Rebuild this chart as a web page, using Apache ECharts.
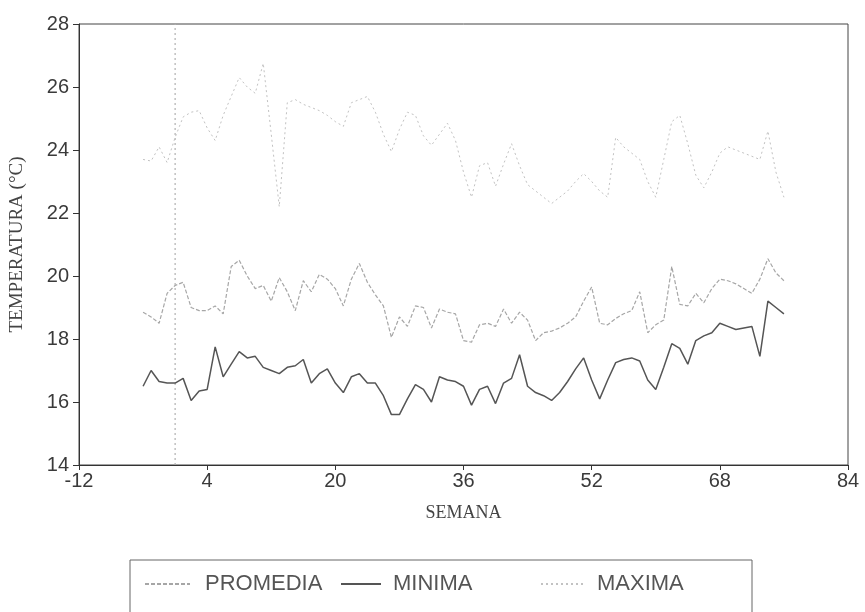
<!DOCTYPE html>
<html>
<head>
<meta charset="utf-8">
<script src="https://cdn.jsdelivr.net/npm/echarts@6.0.0/dist/echarts.min.js"></script>
<style>
html,body{margin:0;padding:0;background:#fff;}
#grafico{width:865px;height:612px;}
</style>
</head>
<body>
<div id="grafico"></div>
<script>
// semanas (eje x)
var semanas = [-4,-3,-2,-1,0,1,2,3,4,5,6,7,8,9,10,11,12,13,14,15,16,17,18,19,20,
  21,22,23,24,25,26,27,28,29,30,31,32,33,34,35,36,37,38,39,40,41,42,43,44,45,46,
  47,48,49,50,51,52,53,54,55,56,57,58,59,60,61,62,63,64,65,66,67,68,69,70,71,72,
  73,74,75,76];

// temperaturas (°C)
var promedia = [18.85,18.7,18.5,19.45,19.7,19.8,19.0,18.9,18.9,19.05,18.8,20.3,20.5,20.0,19.6,
  19.7,19.2,19.95,19.5,18.9,19.85,19.5,20.05,19.9,19.6,19.05,19.9,20.4,19.8,19.4,19.05,
  18.05,18.7,18.4,19.05,19.0,18.35,18.95,18.85,18.8,17.95,17.9,18.45,18.5,18.4,18.95,18.5,
  18.85,18.6,17.95,18.2,18.25,18.35,18.5,18.7,19.2,19.65,18.5,18.45,18.65,18.8,18.9,19.5,
  18.2,18.45,18.6,20.3,19.1,19.05,19.45,19.15,19.6,19.9,19.85,19.75,19.6,19.45,19.9,20.55,
  20.1,19.85];
var minima = [16.5,17.0,16.65,16.6,16.6,16.75,16.05,16.35,16.4,17.75,16.8,17.2,17.6,17.4,17.45,
  17.1,17.0,16.9,17.1,17.15,17.35,16.6,16.9,17.05,16.6,16.3,16.8,16.9,16.6,16.6,16.2,
  15.6,15.6,16.1,16.55,16.4,16.0,16.8,16.7,16.65,16.5,15.9,16.4,16.5,15.95,16.6,16.75,
  17.5,16.5,16.3,16.2,16.05,16.3,16.65,17.05,17.4,16.7,16.1,16.7,17.25,17.35,17.4,17.3,
  16.7,16.4,17.1,17.85,17.7,17.2,17.95,18.1,18.2,18.5,18.4,18.3,18.35,18.4,17.45,19.2,
  19.0,18.8];
var maxima = [23.7,23.65,24.1,23.6,24.4,25.05,25.2,25.25,24.7,24.3,25.1,25.7,26.3,26.0,25.8,
  26.75,24.5,22.2,25.5,25.6,25.45,25.35,25.25,25.1,24.9,24.75,25.5,25.6,25.7,25.2,24.5,
  23.95,24.65,25.2,25.1,24.45,24.15,24.5,24.85,24.3,23.3,22.5,23.5,23.6,22.85,23.55,24.2,
  23.5,22.9,22.7,22.5,22.3,22.5,22.7,23.0,23.25,23.0,22.7,22.5,24.4,24.1,23.9,23.7,
  23.0,22.5,23.7,24.9,25.1,24.2,23.2,22.8,23.3,23.9,24.1,24.0,23.9,23.8,23.7,24.6,
  23.3,22.5];

// ticks
var xTicks = [-12,4,20,36,52,68,84];
var yTicks = [14,16,18,20,22,24,26,28];
var semanaCorte = 0; // línea vertical punteada

function pares(vals){
  return semanas.map(function(s,i){ return [s, vals[i]]; });
}

var textoLeyenda = {fontFamily:'Liberation Sans', fontSize:22, color:'#555'};

var grafico = echarts.init(document.getElementById('grafico'));
grafico.setOption({
  animation:false,
  backgroundColor:'#fff',
  grid:{
    left:77, right:17, top:24, bottom:147,
    show:true, borderColor:'#444', borderWidth:1
  },
  legend:[
    {data:['PROMEDIA'], left:144, top:573, padding:0, itemWidth:45, itemHeight:14,
      itemStyle:{opacity:0},
      textStyle:Object.assign({padding:[0,0,0,10]}, textoLeyenda)},
    {data:['MINIMA'], left:340, top:573, padding:0, itemWidth:40, itemHeight:14,
      itemStyle:{opacity:0},
      textStyle:Object.assign({padding:[0,0,0,7]}, textoLeyenda)},
    {data:['MAXIMA'], left:540, top:573, padding:0, itemWidth:42, itemHeight:14,
      itemStyle:{opacity:0},
      textStyle:Object.assign({padding:[0,0,0,9]}, textoLeyenda)}
  ],
  graphic:[{
    type:'rect', silent:true,
    shape:{x:130, y:560, width:622, height:80},
    style:{fill:'none', stroke:'#666', lineWidth:1}
  }],
  xAxis:{
    type:'value',
    min:xTicks[0], max:xTicks[xTicks.length-1], interval:xTicks[1]-xTicks[0],
    name:'SEMANA', nameLocation:'middle', nameGap:39,
    nameTextStyle:{fontFamily:'Liberation Serif', fontSize:18, color:'#444'},
    axisLine:{onZero:false, lineStyle:{color:'#333', width:1}},
    axisTick:{show:true, length:5, lineStyle:{color:'#333'}},
    axisLabel:{fontFamily:'Liberation Sans', fontSize:20, color:'#3a3a3a', margin:6},
    splitLine:{show:false}
  },
  yAxis:{
    type:'value',
    min:yTicks[0], max:yTicks[yTicks.length-1], interval:yTicks[1]-yTicks[0],
    name:'TEMPERATURA (°C)', nameLocation:'middle', nameGap:52, nameRotate:90,
    nameTextStyle:{fontFamily:'Liberation Serif', fontSize:19, color:'#444'},
    axisLine:{onZero:false, lineStyle:{color:'#333', width:1}},
    axisTick:{show:true, length:6, lineStyle:{color:'#333'}},
    axisLabel:{fontFamily:'Liberation Sans', fontSize:20, color:'#3a3a3a', margin:10},
    splitLine:{show:false}
  },
  series:[
    {
      // línea vertical en la semana de corte
      name:'corte', type:'line', symbol:'none', silent:true,
      data:[[semanaCorte, yTicks[0]], [semanaCorte, yTicks[yTicks.length-1]]],
      lineStyle:{color:'#b0b0b0', width:1.2, type:[2,3]},
      z:1
    },
    {
      name:'PROMEDIA', type:'line', symbol:'none', data:pares(promedia),
      lineStyle:{color:'#a6a6a6', width:1.2, type:[4,2]},
      itemStyle:{color:'#a6a6a6'},
      z:3
    },
    {
      name:'MINIMA', type:'line', symbol:'none', data:pares(minima),
      lineStyle:{color:'#555', width:1.5},
      itemStyle:{color:'#555'},
      z:4
    },
    {
      name:'MAXIMA', type:'line', symbol:'none', data:pares(maxima),
      lineStyle:{color:'#c2c2c2', width:1, type:[2,3]},
      itemStyle:{color:'#c2c2c2'},
      z:2
    }
  ]
});
</script>
</body>
</html>
